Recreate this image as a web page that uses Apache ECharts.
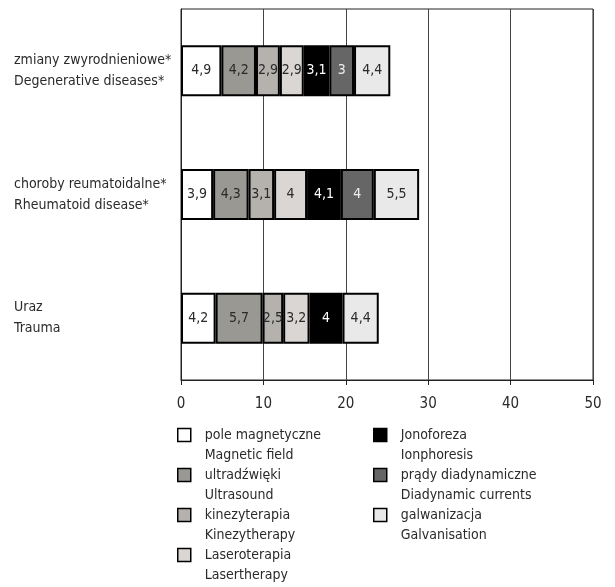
<!DOCTYPE html>
<html>
<head>
<meta charset="utf-8">
<script src="https://cdn.jsdelivr.net/npm/echarts@6/dist/echarts.min.js"></script>
<style>
  html, body { margin: 0; padding: 0; background: #fff; }
  #chart { width: 615px; height: 587px; }
</style>
</head>
<body>
<div id="chart"></div>
<script>
// Categories (Polish / English), top to bottom
const categoriesPl = ['zmiany zwyrodnieniowe*', 'choroby reumatoidalne*', 'Uraz'];
const categoriesEn = ['Degenerative diseases*', 'Rheumatoid disease*', 'Trauma'];

// Treatment names (Polish / English)
const treatmentsPl = ['pole magnetyczne', 'ultradźwięki', 'kinezyterapia', 'Laseroterapia',
                      'Jonoforeza', 'prądy diadynamiczne', 'galwanizacja'];
const treatmentsEn = ['Magnetic field', 'Ultrasound', 'Kinezytherapy', 'Lasertherapy',
                      'Ionphoresis', 'Diadynamic currents', 'Galvanisation'];

// Values per treatment, one entry per category
const poleMagnetyczne    = [4.9, 3.9, 4.2];
const ultradzwieki       = [4.2, 4.3, 5.7];
const kinezyterapia      = [2.9, 3.1, 2.5];
const laseroterapia      = [2.9, 4.0, 3.2];
const jonoforeza         = [3.1, 4.1, 4.0];
const pradyDiadynamiczne = [3.0, 4.0, null];
const galwanizacja       = [4.4, 5.5, 4.4];

const xTicks = [0, 10, 20, 30, 40, 50];

const seriesValues = [poleMagnetyczne, ultradzwieki, kinezyterapia, laseroterapia,
                      jonoforeza, pradyDiadynamiczne, galwanizacja];
const fills = ['#ffffff', '#9a9893', '#b5b2ae', '#d9d6d3', '#000000', '#666666', '#e9e9e9'];
const labelColors = ['#2a2a2a', '#2a2a2a', '#2a2a2a', '#2a2a2a', '#fff', '#eeeeee', '#2a2a2a'];

const FONT = "'DejaVu Sans Condensed', 'Liberation Sans', sans-serif";
const TXT = '#2a2a2a';

const chart = echarts.init(document.getElementById('chart'), null, { renderer: 'canvas' });

const series = seriesValues.map((vals, i) => ({
  name: treatmentsPl[i],
  type: 'bar',
  stack: 'total',
  barWidth: 51,
  data: vals,
  itemStyle: { color: fills[i], borderColor: '#000', borderWidth: 2 },
  label: {
    show: true,
    position: 'inside',
    color: labelColors[i],
    fontFamily: FONT,
    fontSize: 14,
    formatter: p => (p.value == null ? '' : String(p.value).replace('.', ','))
  },
  emphasis: { disabled: true }
}));

const enByPl = {};
treatmentsPl.forEach((n, i) => { enByPl[n] = treatmentsEn[i]; });

// Legend entries: Polish name beside the swatch, English name on the line below
// (a leading empty line keeps the swatch level with the first line of text)
const legendBase = {
  orient: 'vertical',
  icon: 'rect',
  itemWidth: 13,
  itemHeight: 13,
  itemGap: -20,
  height: 400,
  selectedMode: false,
  itemStyle: { borderColor: '#000', borderWidth: 1.5 },
  textStyle: {
    fontFamily: FONT,
    fontSize: 14,
    color: TXT,
    lineHeight: 20,
    padding: [0, 0, 0, 9]
  },
  formatter: name => ' \n' + name + '\n' + enByPl[name]
};

chart.setOption({
  animation: false,
  backgroundColor: '#fff',
  grid: {
    left: 181, right: 22, top: 9, bottom: 207,
    show: true, borderColor: '#222', borderWidth: 1, backgroundColor: 'transparent'
  },
  legend: [
    Object.assign({}, legendBase, { left: 172, top: 400, data: treatmentsPl.slice(0, 4) }),
    Object.assign({}, legendBase, { left: 368, top: 400, data: treatmentsPl.slice(4) })
  ],
  xAxis: {
    type: 'value',
    min: xTicks[0],
    max: xTicks[xTicks.length - 1],
    interval: 10,
    axisLine: { show: true, lineStyle: { color: '#222', width: 1 } },
    axisTick: { show: true, inside: false, length: 5, lineStyle: { color: '#222' } },
    splitLine: { show: true, lineStyle: { color: '#444', width: 1 } },
    axisLabel: { fontFamily: FONT, fontSize: 15, color: TXT, margin: 17 }
  },
  yAxis: {
    type: 'category',
    inverse: true,
    data: categoriesPl,
    axisLine: { show: true, lineStyle: { color: '#222' } },
    axisTick: { show: false },
    axisLabel: {
      align: 'left',
      margin: 167,
      fontFamily: FONT,
      fontSize: 14,
      lineHeight: 21,
      color: TXT,
      formatter: (v, i) => v + '\n' + categoriesEn[i]
    }
  },
  series: series
});
</script>
</body>
</html>
